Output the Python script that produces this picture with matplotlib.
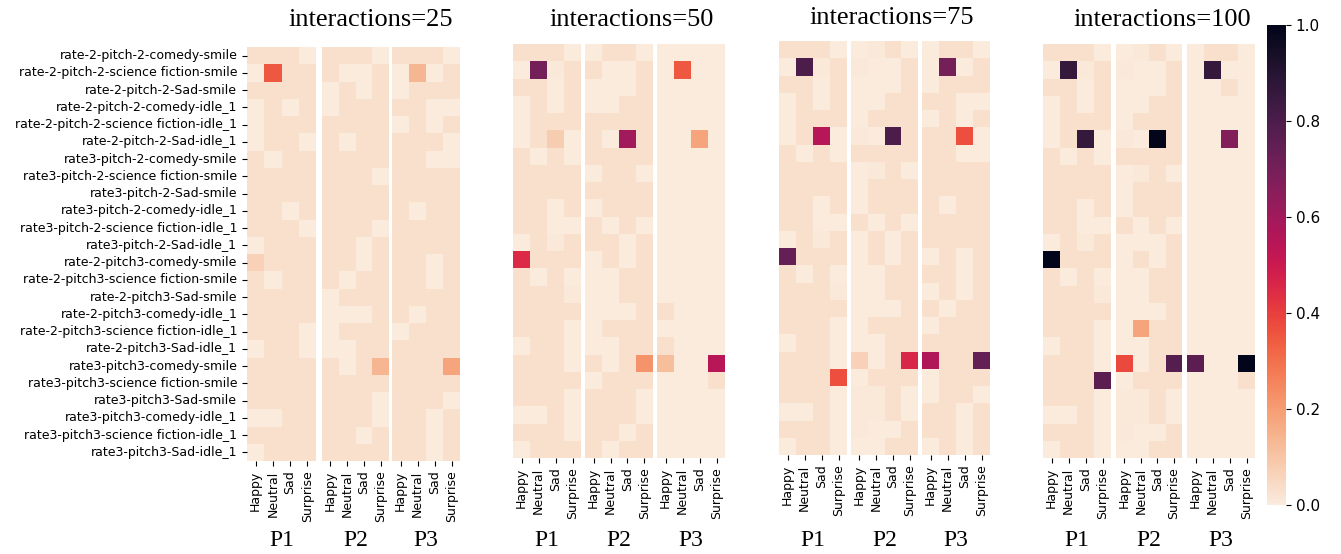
import numpy as np
import matplotlib
matplotlib.use("Agg")
import matplotlib.pyplot as plt
import seaborn as sns
from matplotlib.cm import ScalarMappable
from matplotlib.colors import Normalize

conditions = [
    "rate-2-pitch-2-comedy-smile",
    "rate-2-pitch-2-science fiction-smile",
    "rate-2-pitch-2-Sad-smile",
    "rate-2-pitch-2-comedy-idle_1",
    "rate-2-pitch-2-science fiction-idle_1",
    "rate-2-pitch-2-Sad-idle_1",
    "rate3-pitch-2-comedy-smile",
    "rate3-pitch-2-science fiction-smile",
    "rate3-pitch-2-Sad-smile",
    "rate3-pitch-2-comedy-idle_1",
    "rate3-pitch-2-science fiction-idle_1",
    "rate3-pitch-2-Sad-idle_1",
    "rate-2-pitch3-comedy-smile",
    "rate-2-pitch3-science fiction-smile",
    "rate-2-pitch3-Sad-smile",
    "rate-2-pitch3-comedy-idle_1",
    "rate-2-pitch3-science fiction-idle_1",
    "rate-2-pitch3-Sad-idle_1",
    "rate3-pitch3-comedy-smile",
    "rate3-pitch3-science fiction-smile",
    "rate3-pitch3-Sad-smile",
    "rate3-pitch3-comedy-idle_1",
    "rate3-pitch3-science fiction-idle_1",
    "rate3-pitch3-Sad-idle_1",
]
emotions = ["Happy", "Neutral", "Sad", "Surprise"]
participants = ["P1", "P2", "P3"]
interactions = [25, 50, 75, 100]

# scores in percent: one row per condition, columns P1 | P2 | P3 x emotions
scores_25 = [
    [3, 3, 3, 0, 3, 3, 3, 0, 3, 3, 3, 0],
    [0, 35, 3, 3, 3, 0, 0, 3, 0, 14, 0, 3],
    [3, 3, 3, 3, 0, 3, 0, 3, 0, 3, 3, 3],
    [0, 3, 0, 3, 0, 3, 3, 3, 3, 3, 0, 0],
    [0, 3, 3, 3, 3, 3, 3, 3, 0, 3, 0, 3],
    [0, 3, 3, 0, 3, 0, 3, 3, 3, 3, 3, 0],
    [3, 0, 3, 3, 3, 3, 3, 3, 3, 3, 0, 0],
    [3, 3, 3, 3, 3, 3, 3, 0, 3, 3, 3, 3],
    [3, 3, 3, 3, 3, 3, 3, 3, 3, 3, 3, 3],
    [3, 3, 0, 3, 3, 3, 3, 3, 3, 0, 3, 3],
    [3, 3, 3, 0, 3, 3, 3, 0, 3, 3, 3, 3],
    [0, 3, 3, 3, 3, 3, 0, 3, 3, 3, 3, 3],
    [7, 3, 3, 3, 3, 3, 0, 3, 3, 3, 0, 3],
    [3, 0, 3, 3, 3, 0, 3, 3, 3, 3, 0, 3],
    [3, 3, 3, 3, 0, 3, 3, 3, 3, 3, 3, 3],
    [3, 3, 3, 3, 0, 0, 0, 3, 3, 0, 3, 3],
    [3, 3, 3, 0, 0, 3, 3, 3, 0, 3, 3, 3],
    [0, 3, 3, 0, 0, 0, 3, 3, 3, 3, 3, 3],
    [3, 3, 3, 3, 3, 0, 3, 14, 3, 3, 3, 18],
    [3, 3, 3, 3, 3, 3, 3, 3, 3, 3, 3, 3],
    [3, 3, 3, 3, 3, 3, 3, 0, 3, 3, 3, 0],
    [0, 0, 3, 3, 3, 3, 3, 0, 3, 3, 0, 3],
    [3, 3, 3, 3, 3, 3, 0, 3, 3, 3, 0, 3],
    [0, 3, 3, 3, 3, 3, 3, 3, 3, 3, 0, 3],
]

scores_50 = [
    [3, 3, 3, 0, 0, 3, 3, 0, 0, 0, 0, 0],
    [0, 70, 1, 3, 3, 0, 0, 3, 0, 35, 0, 0],
    [3, 3, 0, 3, 0, 0, 0, 3, 0, 0, 0, 0],
    [0, 3, 0, 3, 0, 0, 3, 3, 0, 0, 0, 0],
    [0, 3, 3, 3, 3, 3, 3, 3, 0, 0, 0, 0],
    [0, 3, 8, 0, 3, 0, 60, 3, 0, 0, 18, 0],
    [3, 0, 3, 0, 3, 3, 3, 3, 0, 0, 0, 0],
    [3, 3, 3, 3, 0, 3, 3, 0, 0, 0, 0, 0],
    [3, 3, 3, 3, 3, 3, 3, 3, 0, 0, 0, 0],
    [3, 3, 0, 3, 0, 3, 3, 3, 0, 0, 0, 0],
    [3, 3, 0, 0, 3, 0, 3, 0, 0, 0, 0, 0],
    [0, 3, 1, 3, 3, 3, 0, 3, 0, 0, 0, 0],
    [45, 3, 3, 3, 0, 3, 0, 3, 0, 0, 0, 0],
    [3, 0, 3, 0, 0, 0, 3, 3, 0, 0, 0, 0],
    [3, 3, 3, 1, 0, 0, 3, 3, 0, 0, 0, 0],
    [3, 3, 3, 3, 0, 0, 0, 3, 3, 0, 0, 0],
    [3, 3, 3, 0, 0, 3, 3, 3, 0, 0, 0, 0],
    [0, 3, 3, 0, 0, 0, 3, 3, 3, 0, 0, 0],
    [3, 3, 3, 0, 3, 0, 3, 22, 12, 0, 0, 55],
    [3, 3, 3, 3, 0, 3, 3, 3, 0, 0, 0, 3],
    [3, 3, 3, 0, 3, 3, 3, 0, 0, 0, 0, 0],
    [0, 0, 3, 0, 3, 3, 3, 0, 0, 0, 0, 0],
    [3, 3, 3, 0, 3, 3, 0, 3, 0, 0, 0, 0],
    [0, 3, 3, 3, 3, 0, 3, 3, 0, 0, 0, 0],
]

scores_75 = [
    [3, 3, 3, 0, 0, 1, 3, 0, 0, 3, 3, 0],
    [0, 80, 1, 3, 1, 0, 0, 3, 0, 70, 0, 3],
    [3, 3, 0, 3, 0, 0, 0, 3, 0, 3, 3, 3],
    [0, 3, 0, 3, 0, 0, 3, 3, 3, 3, 0, 0],
    [0, 3, 3, 3, 0, 3, 3, 3, 0, 3, 0, 3],
    [0, 3, 55, 0, 1, 0, 80, 3, 3, 3, 37, 0],
    [3, 0, 3, 0, 3, 3, 3, 3, 3, 3, 0, 0],
    [3, 3, 3, 3, 0, 1, 3, 0, 3, 3, 3, 3],
    [3, 3, 3, 3, 0, 3, 3, 3, 3, 3, 3, 3],
    [3, 3, 0, 3, 0, 3, 3, 3, 3, 0, 3, 3],
    [3, 3, 0, 0, 3, 0, 3, 0, 3, 3, 3, 3],
    [0, 3, 1, 3, 0, 3, 0, 3, 3, 3, 3, 3],
    [74, 3, 3, 3, 0, 3, 0, 3, 0, 3, 0, 3],
    [3, 0, 3, 0, 0, 0, 3, 3, 3, 3, 0, 3],
    [3, 3, 3, 1, 0, 0, 3, 3, 0, 3, 0, 3],
    [3, 3, 3, 3, 0, 0, 0, 3, 3, 0, 3, 3],
    [3, 3, 3, 0, 0, 3, 3, 3, 0, 3, 3, 3],
    [0, 3, 3, 0, 0, 0, 3, 3, 3, 3, 3, 3],
    [3, 3, 3, 0, 7, 0, 3, 46, 57, 3, 3, 74],
    [3, 3, 3, 37, 0, 3, 3, 3, 0, 3, 3, 3],
    [3, 3, 3, 0, 1, 1, 3, 0, 0, 3, 3, 0],
    [0, 0, 3, 0, 1, 1, 3, 0, 3, 3, 0, 3],
    [3, 3, 3, 0, 1, 0, 0, 3, 3, 3, 0, 3],
    [0, 3, 3, 0, 0, 0, 3, 3, 0, 3, 0, 3],
]

scores_100 = [
    [3, 3, 3, 0, 0, 1, 3, 0, 0, 3, 3, 0],
    [0, 86, 1, 3, 1, 0, 0, 3, 0, 86, 0, 0],
    [3, 3, 0, 3, 0, 0, 0, 3, 0, 0, 3, 0],
    [0, 3, 0, 3, 0, 0, 3, 3, 0, 0, 0, 0],
    [0, 3, 3, 3, 0, 3, 3, 3, 0, 0, 0, 0],
    [0, 3, 86, 0, 1, 0, 100, 3, 0, 0, 67, 0],
    [3, 0, 3, 0, 3, 3, 3, 3, 0, 0, 0, 0],
    [3, 3, 3, 3, 0, 1, 3, 0, 0, 0, 0, 0],
    [3, 3, 3, 3, 0, 3, 3, 3, 0, 0, 0, 0],
    [3, 3, 0, 3, 0, 3, 3, 3, 0, 0, 0, 0],
    [3, 3, 0, 0, 3, 0, 3, 0, 0, 0, 0, 0],
    [0, 3, 1, 3, 0, 0, 0, 3, 0, 0, 0, 0],
    [100, 3, 3, 3, 0, 3, 0, 3, 0, 0, 0, 0],
    [3, 0, 3, 0, 0, 0, 3, 3, 0, 0, 0, 0],
    [3, 3, 3, 1, 0, 0, 3, 3, 0, 0, 0, 0],
    [3, 3, 3, 3, 0, 0, 0, 3, 0, 0, 0, 0],
    [3, 3, 3, 0, 0, 18, 3, 3, 0, 0, 0, 0],
    [0, 3, 3, 0, 0, 0, 3, 3, 0, 0, 0, 0],
    [3, 3, 3, 0, 38, 0, 3, 78, 76, 0, 0, 100],
    [3, 3, 3, 76, 0, 3, 3, 3, 0, 0, 0, 3],
    [3, 3, 3, 0, 1, 1, 3, 0, 0, 0, 0, 0],
    [0, 0, 3, 0, 1, 1, 3, 0, 0, 0, 0, 0],
    [3, 3, 3, 0, 1, 0, 0, 3, 0, 0, 0, 0],
    [0, 3, 3, 0, 0, 0, 3, 3, 0, 0, 0, 0],
]

W, H = 1341, 554
# pixel layout of each block of three heatmaps
col_spans = [
    [(247, 316), (322, 389), (392, 460)],
    [(513, 581), (585, 653), (657, 725)],
    [(779, 847), (851, 918), (922, 990)],
    [(1043, 1111), (1116, 1182), (1187, 1255)],
]
row_spans = [(47, 461), (44, 458), (41, 455), (44, 458)]
title_pos = [(371, 20), (632, 20), (892, 18), (1162, 20)]

SERIF = "Liberation Serif"
cmap = sns.color_palette("rocket_r", as_cmap=True)


def box(x0, y0, x1, y1):
    return [x0 / W, 1 - y1 / H, (x1 - x0) / W, (y1 - y0) / H]


fig = plt.figure(figsize=(W / 100, H / 100), dpi=100)

all_scores = [scores_25, scores_50, scores_75, scores_100]
for k, (n, scores) in enumerate(zip(interactions, all_scores)):
    values = np.array(scores, dtype=float) / 100
    top, bottom = row_spans[k]
    for j, who in enumerate(participants):
        x0, x1 = col_spans[k][j]
        ax = fig.add_axes(box(x0, top, x1, bottom))
        first = k == 0 and j == 0
        sns.heatmap(values[:, 4 * j:4 * j + 4], ax=ax, cmap=cmap, vmin=0, vmax=1,
                    cbar=False, xticklabels=emotions,
                    yticklabels=conditions if first else False)
        ax.tick_params(axis="x", labelsize=9, labelrotation=90)
        ax.tick_params(axis="y", labelsize=9, labelrotation=0)
        fig.text((x0 + x1) / 2 / W, 1 - 540 / H, who, family=SERIF,
                 fontsize=17, ha="center", va="center")
    tx, ty = title_pos[k]
    fig.text(tx / W, 1 - ty / H, f"interactions={n}", family=SERIF,
             fontsize=19, ha="center", va="center")

cax = fig.add_axes(box(1267, 25, 1286, 505))
cb = fig.colorbar(ScalarMappable(norm=Normalize(0, 1), cmap=cmap), cax=cax)
cb.outline.set_visible(False)
cb.set_ticks([0, 0.2, 0.4, 0.6, 0.8, 1.0])
cb.ax.tick_params(labelsize=11)

fig.savefig("out.png", dpi=100)
